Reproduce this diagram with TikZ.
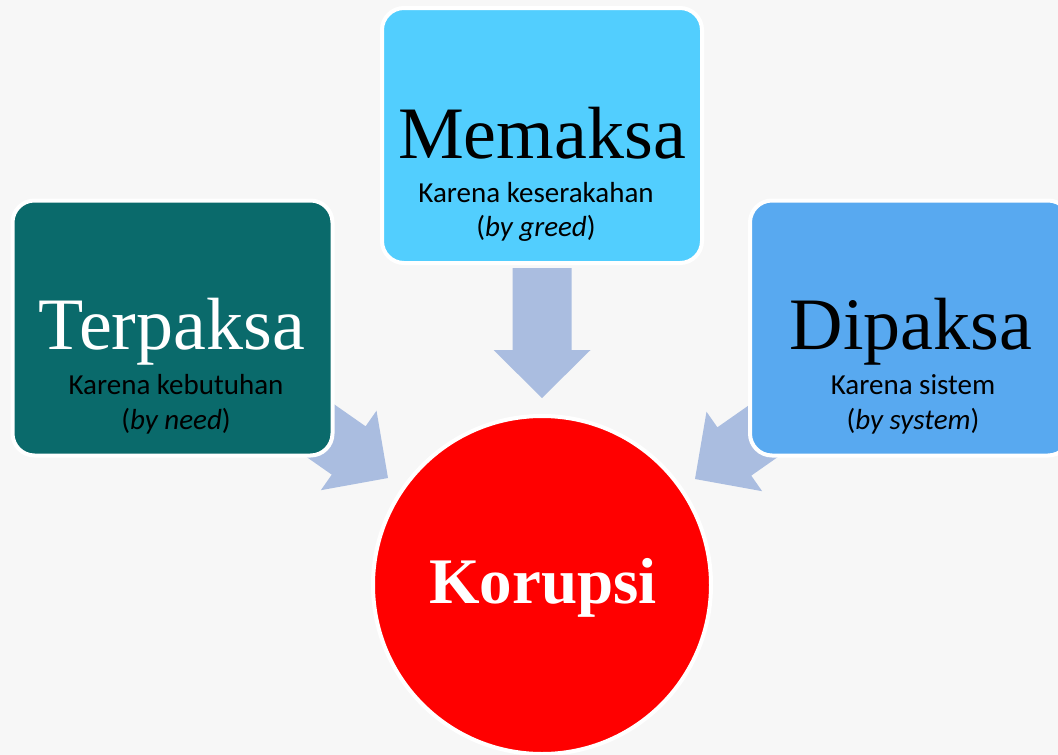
\documentclass[tikz,border=0pt]{standalone}
\usepackage{fontspec}
\setmainfont{Liberation Serif}
\newfontfamily\ketfont{Carlito}

\definecolor{bgpaper}{HTML}{F7F7F7}
\definecolor{tealbox}{HTML}{0A6A6B}
\definecolor{skybox}{HTML}{52CEFE}
\definecolor{bluebox}{HTML}{58A9F0}
\definecolor{arrowblue}{HTML}{AABDE0}
\definecolor{korupsired}{HTML}{FF0000}

\tikzset{
  kotak/.style={rectangle, rounded corners=22pt, draw=white, line width=4pt,
    minimum width=320pt, minimum height=255pt, inner sep=0pt},
  judul/.style={anchor=base, inner sep=0pt, font=\fontsize{74}{80}\selectfont},
  ket/.style={inner sep=0pt, font=\ketfont\fontsize{29}{32}\selectfont},
}

% block arrow: #1 = tip, #2 = direction
\newcommand{\panahblok}[2]{%
  \fill[arrowblue, shift={#1}, rotate=#2] (0,0) -- (-48,48.5) -- (-48,29.5)
    -- (-130,29.5) -- (-130,-29.5) -- (-48,-29.5) -- (-48,-48.5) -- cycle;}

\begin{document}
\begin{tikzpicture}[x=1pt,y=-1pt]
  \clip (0,0) rectangle (1058,755);
  \fill[bgpaper] (0,0) rectangle (1058,755);

  % arrows (behind the boxes)
  \panahblok{(542,398)}{-90}
  \panahblok{(388,478)}{-35}
  \panahblok{(695,479)}{-145}

  % boxes
  \node[kotak, fill=skybox] (memaksa) at (542,135.5) {};
  \node[kotak, fill=tealbox] (terpaksa) at (172.5,328) {};
  \node[kotak, fill=bluebox] (dipaksa) at (910,328) {};

  \node[judul] (memaksa-t) at (542,158) {Memaksa};
  \node[ket] (memaksa-k) at (536,193) {Karena keserakahan};
  \node[ket] (memaksa-b) at (536,228) {(\textit{by greed})};

  \node[judul, text=white] (terpaksa-t) at (172,349) {Terpaksa};
  \node[ket] (terpaksa-k) at (176,385) {Karena kebutuhan};
  \node[ket] (terpaksa-b) at (176,421) {(\textit{by need})};

  \node[judul] (dipaksa-t) at (911,349) {Dipaksa};
  \node[ket] (dipaksa-k) at (913,385) {Karena sistem};
  \node[ket] (dipaksa-b) at (913,421) {(\textit{by system})};

  % centre
  \node[circle, draw=white, line width=4pt, fill=korupsired, minimum size=338pt,
    inner sep=0pt] (korupsi) at (542,585) {};
  \node[anchor=base, inner sep=0pt, text=white,
    font=\bfseries\fontsize{65}{70}\selectfont] (korupsi-t) at (543,603) {Korupsi};
\end{tikzpicture}
\end{document}
